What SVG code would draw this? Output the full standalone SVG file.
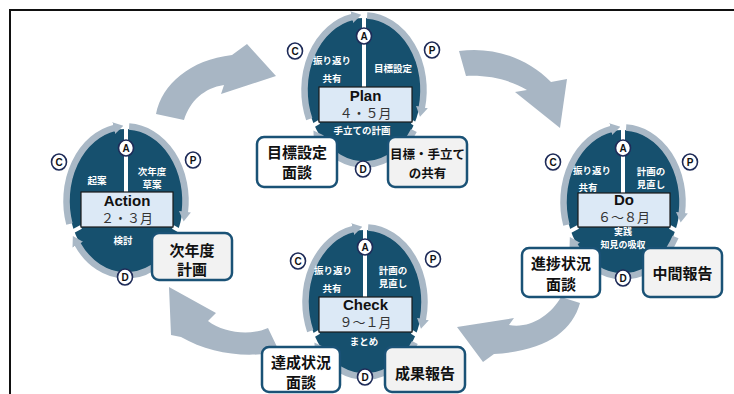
<svg xmlns="http://www.w3.org/2000/svg" width="734" height="394" viewBox="0 0 734 394">
<defs>
<marker id="ah" viewBox="0 0 10 12" refX="1" refY="6" markerWidth="10" markerHeight="12" markerUnits="userSpaceOnUse" orient="auto"><path d="M0,0 L10,6 L0,12 z" fill="#a9b8c6"/></marker>
<style>
.dark{fill:#16506e}
.ring{fill:none;stroke:#a9b8c6;stroke-width:6.5;marker-end:url(#ah)}
.dv{stroke:#fff;stroke-width:4}
.lbox{fill:#dce9f6;stroke:#1a1a1a;stroke-width:1.2}
.t1{font-family:"Liberation Sans","Noto Sans CJK JP",sans-serif;font-weight:bold;font-size:15px;fill:#111;text-anchor:middle;dominant-baseline:central}
.t2{font-family:"Noto Sans CJK JP",sans-serif;font-size:13px;fill:#333;text-anchor:middle;dominant-baseline:central}
.tw{font-family:"Noto Sans CJK JP",sans-serif;font-weight:bold;font-size:9.5px;fill:#fff;text-anchor:middle;dominant-baseline:central}
.ts{font-size:9px}
.lc{fill:#fff;stroke:#1e2b58;stroke-width:1.6}
.lt{font-family:"Liberation Sans",sans-serif;font-weight:bold;font-size:10px;fill:#111;text-anchor:middle;dominant-baseline:central}
.nb{stroke:#1a5276;stroke-width:2.5}
.w{fill:#fff}
.g{fill:#f2f2f2}
.bt{font-family:"Noto Sans CJK JP",sans-serif;font-weight:bold;font-size:15px;fill:#111;text-anchor:middle;dominant-baseline:central}
.bs{font-size:12.5px}
.arrow{fill:#a8b6c4}
</style>
</defs>
<rect x="10" y="10" width="740" height="400" fill="none" stroke="#111" stroke-width="2"/>

<g id="connectors">
<path class="arrow" d="M156,114 C162,84 190,60 232,55 L247,44 L276,76 L221,94 L224,85 C204,88 190,101 184,120 Z"/>
<path class="arrow" d="M459,51 C493,46 527,58 551,82 L567,79 L560,128 L515,92 L527,90 C510,80 490,75 466,76 Z"/>
<path class="arrow" d="M561,297 L580,303 C572,332 545,351 494,354 L483,362 L457,327 L514,318 L509,325 C530,329 551,315 561,297 Z"/>
<path class="arrow" d="M169,287 L216,313 L208,321 C224,333 250,336 268,328 L279,351 C250,359 210,354 181,337 L171,335 Z"/>
</g>

<g id="plan" transform="translate(364,90)">
<ellipse class="dark" rx="57" ry="72"/>
<path class="ring" d="M3.11,-74.4 A59.5,74.5 0 0 1 57.73,18.02"/>
<path class="ring" d="M49.9,40.57 A59.5,74.5 0 0 1 -45.58,47.89"/>
<path class="ring" d="M-54.77,29.11 A59.5,74.5 0 0 1 -11.35,-73.13"/>
<line class="dv" x1="0" y1="-76" x2="0" y2="-3"/>
<line class="dv" x1="48" y1="32" x2="62" y2="41"/>
<line class="dv" x1="-45" y1="32" x2="-60" y2="41"/>
<rect class="lbox" x="-45" y="-3" width="93" height="35"/>
<text class="t1" x="1.5" y="5">Plan</text>
<text class="t2" x="1.5" y="22.5">４・５月</text>
<text class="tw" x="-32" y="-30">振り返り</text>
<text class="tw" x="-32" y="-12">共有</text>
<text class="tw" x="29" y="-22">目標設定</text>
<text class="tw" x="-2" y="40">手立ての計画</text>
<ellipse class="lc" cx="0" cy="-54" rx="7.5" ry="8"/><text class="lt" x="0" y="-54">A</text>
<ellipse class="lc" cx="-69" cy="-39" rx="7.5" ry="8"/><text class="lt" x="-69" y="-39">C</text>
<ellipse class="lc" cx="68" cy="-40" rx="7.5" ry="8"/><text class="lt" x="68" y="-40">P</text>
<ellipse class="lc" cx="-1" cy="79" rx="7.5" ry="8"/><text class="lt" x="-1" y="79">D</text>
</g>

<g id="do" transform="translate(623,202)">
<ellipse class="dark" rx="57" ry="72"/>
<path class="ring" d="M3.11,-74.4 A59.5,74.5 0 0 1 58.77,11.65"/>
<path class="ring" d="M52.53,34.98 A59.5,74.5 0 0 1 -48.74,42.73"/>
<path class="ring" d="M-56.59,23.02 A59.5,74.5 0 0 1 -11.35,-73.13"/>
<line class="dv" x1="0" y1="-76" x2="0" y2="-9"/>
<line class="dv" x1="47" y1="25" x2="63" y2="34"/>
<line class="dv" x1="-45" y1="25" x2="-62" y2="34"/>
<rect class="lbox" x="-45" y="-9" width="92" height="34"/>
<text class="t1" x="1" y="-3">Do</text>
<text class="t2" x="1" y="14.5">６～８月</text>
<text class="tw" x="-31" y="-32">振り返り</text>
<text class="tw" x="-35" y="-15">共有</text>
<text class="tw" x="28" y="-31">計画の</text>
<text class="tw" x="28" y="-18">見直し</text>
<text class="tw ts" x="0" y="29.5">実践</text>
<text class="tw ts" x="0" y="42.5">知見の吸収</text>
<ellipse class="lc" cx="0" cy="-54" rx="7.5" ry="8"/><text class="lt" x="0" y="-54">A</text>
<ellipse class="lc" cx="-70" cy="-40" rx="7.5" ry="8"/><text class="lt" x="-70" y="-40">C</text>
<ellipse class="lc" cx="67" cy="-40" rx="7.5" ry="8"/><text class="lt" x="67" y="-40">P</text>
<ellipse class="lc" cx="0" cy="76" rx="7.5" ry="8"/><text class="lt" x="0" y="76">D</text>
</g>

<g id="action" transform="translate(126,201)">
<ellipse class="dark" rx="57" ry="72"/>
<path class="ring" d="M3.11,-74.4 A59.5,74.5 0 0 1 58.77,11.65"/>
<path class="ring" d="M52.53,34.98 A59.5,74.5 0 0 1 -48.74,42.73"/>
<path class="ring" d="M-56.59,23.02 A59.5,74.5 0 0 1 -11.35,-73.13"/>
<line class="dv" x1="0" y1="-76" x2="0" y2="-9"/>
<line class="dv" x1="47" y1="26" x2="63" y2="35"/>
<line class="dv" x1="-45" y1="26" x2="-62" y2="35"/>
<rect class="lbox" x="-45" y="-9" width="92" height="35"/>
<text class="t1" x="1" y="-1">Action</text>
<text class="t2" x="1" y="16.5">２・３月</text>
<text class="tw" x="-29" y="-21">起案</text>
<text class="tw" x="26" y="-30">次年度</text>
<text class="tw" x="26" y="-17">草案</text>
<text class="tw" x="-3" y="39">検討</text>
<ellipse class="lc" cx="0" cy="-53" rx="7.5" ry="8"/><text class="lt" x="0" y="-53">A</text>
<ellipse class="lc" cx="-67" cy="-39" rx="7.5" ry="8"/><text class="lt" x="-67" y="-39">C</text>
<ellipse class="lc" cx="67" cy="-41" rx="7.5" ry="8"/><text class="lt" x="67" y="-41">P</text>
<ellipse class="lc" cx="-1" cy="76" rx="7.5" ry="8"/><text class="lt" x="-1" y="76">D</text>
</g>

<g id="check" transform="translate(365,302)">
<ellipse class="dark" rx="57" ry="72"/>
<path class="ring" d="M3.11,-74.4 A59.5,74.5 0 0 1 57.73,18.02"/>
<path class="ring" d="M49.9,40.57 A59.5,74.5 0 0 1 -45.58,47.89"/>
<path class="ring" d="M-54.77,29.11 A59.5,74.5 0 0 1 -11.35,-73.13"/>
<line class="dv" x1="0" y1="-76" x2="0" y2="-5"/>
<line class="dv" x1="47" y1="30" x2="61" y2="39"/>
<line class="dv" x1="-46" y1="30" x2="-61" y2="39"/>
<rect class="lbox" x="-46" y="-5" width="93" height="35"/>
<text class="t1" x="0.5" y="2">Check</text>
<text class="t2" x="0.5" y="19.5">９～１月</text>
<text class="tw" x="-32" y="-32">振り返り</text>
<text class="tw" x="-33" y="-14">共有</text>
<text class="tw" x="28" y="-32">計画の</text>
<text class="tw" x="28" y="-19">見直し</text>
<text class="tw" x="-1" y="39">まとめ</text>
<ellipse class="lc" cx="0" cy="-55" rx="7.5" ry="8"/><text class="lt" x="0" y="-55">A</text>
<ellipse class="lc" cx="-67" cy="-41" rx="7.5" ry="8"/><text class="lt" x="-67" y="-41">C</text>
<ellipse class="lc" cx="68" cy="-43" rx="7.5" ry="8"/><text class="lt" x="68" y="-43">P</text>
<ellipse class="lc" cx="0" cy="75" rx="7.5" ry="8"/><text class="lt" x="0" y="75">D</text>
</g>

<g id="box-mokuhyo-mendan">
<rect class="nb w" x="257" y="137" width="80" height="50" rx="7"/>
<text class="bt" x="297" y="151">目標設定</text>
<text class="bt" x="297" y="171">面談</text>
</g>
<g id="box-mokuhyo-kyoyu">
<rect class="nb g" x="388" y="137" width="79" height="50" rx="7"/>
<text class="bt bs" x="427.5" y="153">目標・手立て</text>
<text class="bt bs" x="427.5" y="172">の共有</text>
</g>
<g id="box-jinendo-keikaku">
<rect class="nb g" x="152" y="233" width="80" height="47" rx="7"/>
<text class="bt" x="192" y="249">次年度</text>
<text class="bt" x="192" y="268">計画</text>
</g>
<g id="box-shinchoku">
<rect class="nb w" x="522" y="248" width="78" height="49" rx="7"/>
<text class="bt" x="561" y="262">進捗状況</text>
<text class="bt" x="561" y="283">面談</text>
</g>
<g id="box-chukan">
<rect class="nb g" x="643" y="248" width="79" height="49" rx="7"/>
<text class="bt" x="682.5" y="272">中間報告</text>
</g>
<g id="box-tassei">
<rect class="nb w" x="262" y="347" width="78" height="45" rx="7"/>
<text class="bt" x="301" y="361">達成状況</text>
<text class="bt" x="301" y="381">面談</text>
</g>
<g id="box-seika">
<rect class="nb g" x="385" y="347" width="80" height="45" rx="7"/>
<text class="bt" x="425" y="372">成果報告</text>
</g>
</svg>
